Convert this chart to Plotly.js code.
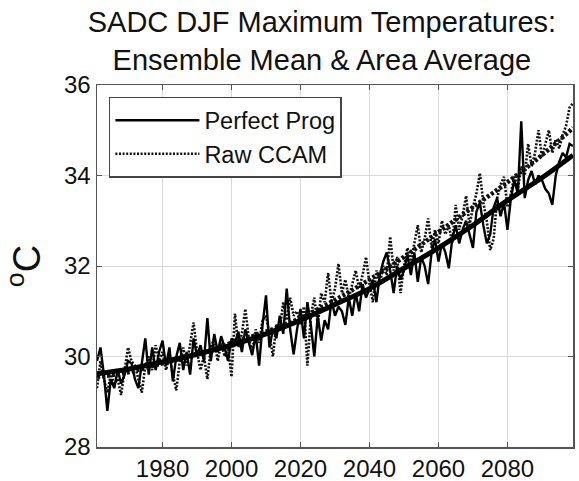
<!DOCTYPE html>
<html>
<head>
<meta charset="utf-8">
<script src="https://cdn.plot.ly/plotly-3.0.1.min.js"></script>
<style>html,body{margin:0;padding:0;background:#fff;}#chart{width:579px;height:481px;}</style>
</head>
<body>
<div id="chart"></div>
<script>
// Years 1961..2099
const startYear = 1961;
const perfectProg = [
29.9,30.2,29.6,28.8,29.5,29.3,29.7,29.4,29.6,29.9,
29.85,29.5,29.3,29.8,30.4,29.6,30.2,29.7,30.1,30.35,
29.8,30.2,29.45,30.0,30.3,29.7,30.1,29.6,30.4,30.0,
30.25,29.9,30.85,29.9,30.5,30.1,30.45,30.2,29.9,30.4,
30.3,30.55,30.1,30.6,30.3,30.03,30.5,29.8,30.7,31.35,
30.2,30.6,30.4,30.9,30.5,31.5,30.6,30.05,30.6,31.05,
30.4,31.2,30.7,30.0,30.9,30.35,30.8,30.6,31.25,30.9,
31.1,31.0,30.7,31.3,30.9,31.4,31.0,31.6,31.3,31.5,
31.7,31.2,31.8,32.1,32.3,31.9,31.4,32.0,31.7,31.9,
32.25,31.8,32.3,31.65,32.2,32.0,31.6,32.3,32.6,32.1,
32.5,32.3,31.95,32.6,32.9,32.5,32.8,33.0,32.7,32.4,
33.2,33.4,32.9,32.5,32.7,33.3,33.5,33.1,33.4,32.8,
33.5,33.9,33.6,35.2,33.5,33.9,34.1,33.8,34.0,33.9,
33.7,33.6,33.35,34.0,34.3,34.5,34.4,34.7,34.65
];
const rawCCAM = [
29.3,29.9,29.5,29.2,29.6,29.4,29.5,29.15,29.7,30.2,
29.9,29.8,29.5,29.2,29.8,30.0,29.7,30.25,29.9,30.1,
29.7,30.0,29.6,29.25,29.9,30.2,29.8,30.3,30.75,30.1,
29.7,30.0,29.5,30.2,30.4,29.9,30.3,30.0,30.2,29.55,
30.95,30.2,30.5,31.05,30.4,30.1,30.6,30.3,30.8,30.9,
30.5,30.0,30.7,30.6,31.2,30.8,31.3,30.9,31.0,30.7,
31.1,29.8,30.9,31.3,30.7,31.4,31.2,31.85,31.2,31.5,
32.05,31.4,31.7,31.3,31.6,31.9,31.5,31.8,32.2,31.6,
31.2,31.9,31.6,32.0,31.8,32.65,31.9,32.2,31.4,32.0,
32.4,32.1,32.5,32.9,32.3,32.6,33.05,32.4,32.8,32.5,
33.0,32.7,32.9,32.5,33.35,32.8,33.1,33.55,32.9,33.3,
33.6,34.05,33.4,33.0,32.35,32.6,33.5,33.8,33.97,33.3,
33.6,34.0,33.7,34.2,34.0,34.7,34.2,34.5,35.0,34.4,
34.7,35.0,34.5,34.8,34.6,34.9,35.1,35.5,35.6
];
const years = perfectProg.map((_, i) => startYear + i);

// Fitted trend curves read at decade points
const trendYears = [1961,1970,1980,1990,2000,2010,2020,2030,2040,2050,2060,2070,2080,2090,2099];
const trendPerfectProg = [29.62,29.72,29.88,30.05,30.25,30.5,30.8,31.15,31.5,31.95,32.4,32.9,33.45,33.95,34.45];
const trendRawCCAM = [29.55,29.65,29.85,30.05,30.3,30.55,30.85,31.25,31.7,32.2,32.75,33.3,33.85,34.45,35.05];

const xTicks = [1980,2000,2020,2040,2060,2080];
const yTicks = [28,30,32,34,36];

const FONT = 'Liberation Sans, Arial, Helvetica, sans-serif';

const traces = [
  {x: years, y: rawCCAM, type: 'scatter', mode: 'lines', name: 'Raw CCAM',
   line: {color: '#111', width: 2.6, dash: '2px,1.6px'}},
  {x: years, y: perfectProg, type: 'scatter', mode: 'lines', name: 'Perfect Prog',
   line: {color: '#000', width: 2.4}},
  {x: trendYears, y: trendRawCCAM, type: 'scatter', mode: 'lines', showlegend: false,
   line: {color: '#111', width: 4.5, dash: '3px,2px', shape: 'spline'}},
  {x: trendYears, y: trendPerfectProg, type: 'scatter', mode: 'lines', showlegend: false,
   line: {color: '#000', width: 5, shape: 'spline'}}
];

const layout = {
  width: 579, height: 481,
  margin: {l: 97, r: 6, t: 85, b: 34},
  paper_bgcolor: '#fff', plot_bgcolor: '#fff',
  font: {family: FONT, color: '#111', size: 24},
  title: {text: 'SADC DJF Maximum Temperatures:<br>Ensemble Mean & Area Average',
          font: {family: FONT, size: 29, color: '#111'},
          xref: 'container', x: 0.556, xanchor: 'center',
          yref: 'container', y: 0.933, yanchor: 'bottom'},
  xaxis: {range: [1961, 2099], tickvals: xTicks, ticktext: xTicks.map(String),
          showgrid: true, gridcolor: '#d9d9d9', gridwidth: 1,
          zeroline: false, showline: true, linecolor: '#555', linewidth: 1.5, mirror: 'ticks',
          ticks: 'inside', ticklen: 5, tickcolor: '#555',
          tickfont: {size: 24, family: FONT, color: '#111'}},
  yaxis: {range: [28, 36], tickvals: yTicks, ticktext: yTicks.map(String),
          showgrid: true, gridcolor: '#d9d9d9', gridwidth: 1,
          zeroline: false, showline: true, linecolor: '#555', linewidth: 1.5, mirror: 'ticks',
          ticks: 'inside', ticklen: 5, tickcolor: '#555',
          tickfont: {size: 24, family: FONT, color: '#111'},
          title: {text: '<sup>o</sup>C', font: {size: 38, family: FONT, color: '#111'}, standoff: 12}},
  showlegend: true,
  legend: {x: 0.025, y: 0.967, xanchor: 'left', yanchor: 'top',
           bgcolor: '#fff', bordercolor: '#444', borderwidth: 1.5,
           font: {size: 23.5, family: FONT, color: '#111'},
           traceorder: 'reversed', itemwidth: 84, tracegroupgap: 0,
           entrywidth: 240, entrywidthmode: 'pixels'}
};

Plotly.newPlot('chart', traces, layout, {displayModeBar: false, staticPlot: true});
</script>
</body>
</html>
